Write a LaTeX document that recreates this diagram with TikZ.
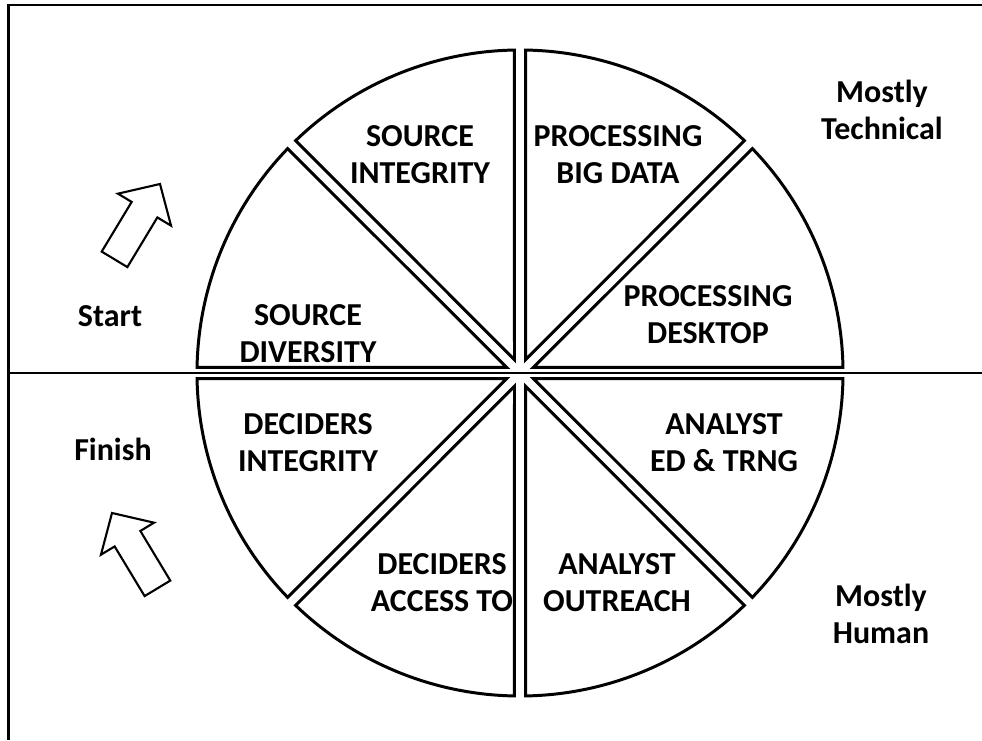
\documentclass[tikz,border=0pt]{standalone}
\usepackage{fontspec}
\setmainfont{Carlito}

\begin{document}
\begin{tikzpicture}[x=0.02cm, y=0.02cm, font=\bfseries\fontsize{18.2}{21}\selectfont]
\tikzstyle{wedge} = [draw, fill=white, line width=1.7pt, line join=miter]
\tikzstyle{sector} = [align=center, inner sep=0pt]
\tikzstyle{side} = [align=center, inner sep=0pt]
\tikzstyle{bigarrow} = [draw, fill=white, line width=1.2pt, line join=miter]

 \useasboundingbox (0,0) rectangle (982,740);
 \draw [line width=1.2pt] (8.5,0) |- (982,735);
 \draw [line width=1.4pt] (8.5,367) -- (982,367);

 % the eight slices
 \begin{scope}[shift={(520,367)}]
 \path [wedge] (22.5:14.4) -- (1:323) arc (1:44:323) -- cycle;
 \path [wedge] (67.5:14.4) -- (46:323) arc (46:89:323) -- cycle;
 \path [wedge] (112.5:14.4) -- (91:323) arc (91:134:323) -- cycle;
 \path [wedge] (157.5:14.4) -- (136:323) arc (136:179:323) -- cycle;
 \path [wedge] (202.5:14.4) -- (181:323) arc (181:224:323) -- cycle;
 \path [wedge] (247.5:14.4) -- (226:323) arc (226:269:323) -- cycle;
 \path [wedge] (292.5:14.4) -- (271:323) arc (271:314:323) -- cycle;
 \path [wedge] (337.5:14.4) -- (316:323) arc (316:359:323) -- cycle;
 \end{scope}

 \node [sector] (srcint) at (420,585) {SOURCE\\INTEGRITY};
 \node [sector] (procbig) at (618,585) {PROCESSING\\BIG DATA};
 \node [sector] (srcdiv) at (308,406) {SOURCE\\DIVERSITY};
 \node [sector] (procdesk) at (708,425) {PROCESSING\\DESKTOP};
 \node [sector] (decint) at (308,297) {DECIDERS\\INTEGRITY};
 \node [sector] (anaed) at (724,297) {ANALYST\\ED \& TRNG};
 \node [sector] (decacc) at (442,157) {DECIDERS\\ACCESS TO};
 \node [sector] (anaout) at (617,157) {ANALYST\\OUTREACH};

 \node [side] (start) at (110,424) {Start};
 \node [side] (finish) at (113,291) {Finish};
 \node [side] (tech) at (882,630) {Mostly\\Technical};
 \node [side] (human) at (881,126) {Mostly\\Human};

 % block arrows
 \begin{scope}[shift={(160,556)}, rotate=58.9]
 \path [bigarrow] (0,0) -- (-30,31) -- (-30,15) -- (-88,15) -- (-88,-15) -- (-30,-15) -- (-30,-31) -- cycle;
 \end{scope}
 \begin{scope}[shift={(112,227)}, rotate=121.1]
 \path [bigarrow] (0,0) -- (-30,31) -- (-30,15) -- (-88,15) -- (-88,-15) -- (-30,-15) -- (-30,-31) -- cycle;
 \end{scope}
\end{tikzpicture}
\end{document}
